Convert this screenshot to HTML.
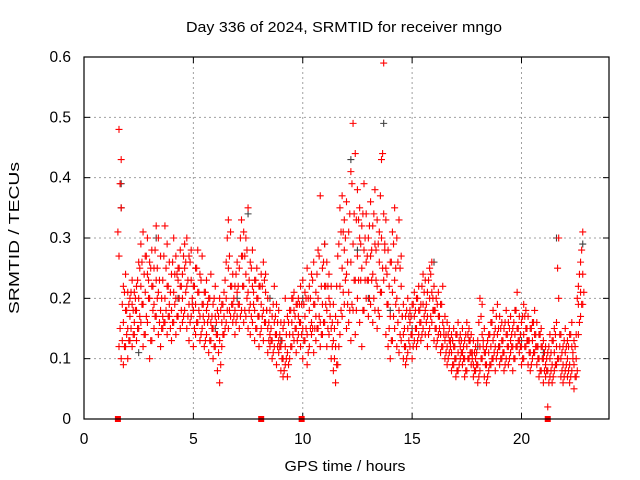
<!DOCTYPE html>
<html><head><meta charset="utf-8"><style>
body{margin:0;background:#fff;}
svg{display:block;font-family:"Liberation Sans",sans-serif;}
</style></head><body>
<svg id="chart" width="640" height="480">
<text x="344" y="32" font-size="15" text-anchor="middle" textLength="316" lengthAdjust="spacingAndGlyphs">Day 336 of 2024, SRMTID for receiver mngo</text>
<text x="19" y="238" font-size="15" text-anchor="middle" textLength="152" lengthAdjust="spacingAndGlyphs" transform="rotate(-90 19 238)">SRMTID / TECUs</text>
<text x="345" y="471" font-size="15" text-anchor="middle" textLength="121" lengthAdjust="spacingAndGlyphs">GPS time / hours</text>
<g id="grid"></g>
<g id="ticks"></g>
<g id="grey"></g>
<g id="red"></g>
<rect x="84" y="57" width="525" height="362" fill="none" stroke="#000" stroke-width="1.2"/>
</svg>
<script>
const times=[1.6,1.7,1.8,1.9,2.0,2.1,2.2,2.3,2.4,2.5,2.6,2.7,2.8,2.9,3.0,3.1,3.2,3.3,3.4,3.5,3.6,3.7,3.8,3.9,4.0,4.1,4.2,4.3,4.4,4.5,4.6,4.7,4.8,4.9,5.0,5.1,5.2,5.3,5.4,5.5,5.6,5.7,5.8,5.9,6.0,6.1,6.2,6.3,6.4,6.5,6.6,6.7,6.8,6.9,7.0,7.1,7.2,7.3,7.4,7.5,7.6,7.7,7.8,7.9,8.0,8.1,8.2,8.3,8.4,8.5,8.6,8.7,8.8,8.9,9.0,9.1,9.2,9.3,9.4,9.5,9.6,9.7,9.8,9.9,10.0,10.1,10.2,10.3,10.4,10.5,10.6,10.7,10.8,10.9,11.0,11.1,11.2,11.3,11.4,11.5,11.6,11.7,11.8,11.9,12.0,12.1,12.2,12.3,12.4,12.5,12.6,12.7,12.8,12.9,13.0,13.1,13.2,13.3,13.4,13.5,13.6,13.7,13.8,13.9,14.0,14.1,14.2,14.3,14.4,14.5,14.6,14.7,14.8,14.9,15.0,15.1,15.2,15.3,15.4,15.5,15.6,15.7,15.8,15.9,16.0,16.1,16.2,16.3,16.4,16.5,16.6,16.7,16.8,16.9,17.0,17.1,17.2,17.3,17.4,17.5,17.6,17.7,17.8,17.9,18.0,18.1,18.2,18.3,18.4,18.5,18.6,18.7,18.8,18.9,19.0,19.1,19.2,19.3,19.4,19.5,19.6,19.7,19.8,19.9,20.0,20.1,20.2,20.3,20.4,20.5,20.6,20.7,20.8,20.9,21.0,21.1,21.2,21.3,21.4,21.5,21.6,21.7,21.8,21.9,22.0,22.1,22.2,22.3,22.4,22.5,22.6,22.7,22.8];
const lowVals=[.12,.10,.09,.12,.10,.13,.12,.14,.13,.15,.16,.12,.14,.16,.10,.13,.15,.17,.14,.12,.15,.16,.14,.17,.13,.16,.14,.17,.15,.16,.18,.15,.13,.17,.12,.14,.16,.13,.15,.12,.14,.11,.13,.10,.12,.08,.06,.12,.14,.16,.15,.17,.16,.14,.17,.15,.18,.16,.17,.15,.14,.16,.13,.15,.12,.15,.13,.16,.11,.12,.10,.12,.09,.11,.08,.07,.09,.07,.10,.12,.13,.11,.14,.12,.10,.13,.09,.12,.14,.11,.13,.15,.12,.14,.16,.12,.14,.10,.08,.06,.09,.14,.17,.19,.15,.16,.13,.18,.14,.20,.16,.12,.18,.20,.17,.19,.16,.18,.15,.17,.21,.23,.14,.12,.10,.13,.15,.12,.11,.13,.10,.09,.11,.12,.10,.13,.12,.14,.13,.15,.14,.12,.15,.16,.13,.12,.14,.11,.12,.10,.09,.11,.08,.09,.07,.08,.10,.09,.07,.08,.10,.09,.07,.08,.06,.08,.10,.07,.06,.08,.09,.10,.08,.11,.09,.10,.08,.10,.09,.11,.08,.10,.12,.11,.09,.10,.12,.09,.08,.10,.11,.09,.07,.08,.06,.07,.02,.07,.06,.08,.09,.10,.07,.06,.08,.07,.06,.08,.05,.07,.14,.17,.19];
const lowMidVals=[.15,.13,.12,.14,.13,.15,.14,.18,.15,.17,.19,.14,.17,.20,.13,.18,.17,.20,.16,.15,.16,.18,.17,.15,.16,.19,.17,.20,.18,.17,.21,.17,.16,.19,.15,.16,.18,.14,.17,.13,.16,.13,.15,.12,.14,.11,.09,.14,.15,.18,.18,.19,.17,.16,.19,.17,.22,.18,.20,.18,.17,.19,.15,.17,.14,.17,.16,.18,.13,.13,.11,.14,.12,.12,.10,.08,.10,.09,.12,.14,.15,.13,.16,.14,.13,.15,.11,.15,.15,.15,.15,.17,.14,.16,.19,.15,.17,.12,.10,.09,.12,.18,.21,.23,.19,.18,.19,.23,.18,.23,.23,.18,.23,.23,.20,.23,.20,.23,.18,.21,.25,.28,.19,.15,.13,.17,.19,.16,.14,.17,.12,.10,.13,.14,.12,.15,.13,.16,.14,.17,.16,.14,.17,.18,.15,.13,.15,.12,.14,.11,.10,.12,.09,.10,.08,.09,.11,.10,.08,.10,.11,.10,.08,.09,.07,.10,.12,.09,.07,.09,.10,.11,.10,.12,.10,.11,.09,.12,.10,.12,.10,.12,.13,.12,.10,.12,.13,.11,.09,.11,.12,.10,.08,.10,.08,.08,.06,.08,.07,.09,.10,.14,.08,.07,.09,.08,.07,.10,.07,.08,.16,.19,.21];
const midVals=[.27,.35,.16,.18,.15,.17,.19,.16,.18,.20,.22,.19,.21,.24,.20,.22,.19,.23,.21,.18,.17,.20,.22,.19,.18,.21,.20,.23,.22,.20,.25,.22,.19,.23,.18,.19,.21,.17,.19,.16,.18,.17,.16,.15,.17,.14,.13,.16,.17,.20,.25,.22,.19,.18,.21,.19,.27,.22,.24,.21,.19,.22,.18,.20,.17,.19,.18,.21,.15,.14,.13,.16,.14,.13,.12,.10,.12,.11,.14,.16,.18,.15,.17,.16,.15,.17,.14,.18,.16,.19,.17,.20,.16,.19,.22,.18,.20,.15,.13,.12,.16,.22,.25,.28,.24,.21,.26,.29,.23,.27,.30,.25,.28,.26,.23,.27,.24,.29,.22,.26,.30,.34,.25,.19,.17,.21,.23,.20,.18,.22,.14,.12,.15,.16,.14,.17,.15,.18,.16,.19,.18,.17,.20,.21,.18,.15,.17,.14,.16,.13,.12,.13,.11,.12,.10,.11,.12,.11,.10,.12,.13,.11,.09,.10,.09,.12,.14,.11,.09,.11,.12,.13,.12,.14,.12,.13,.11,.14,.12,.13,.12,.14,.15,.13,.12,.14,.15,.13,.11,.13,.14,.12,.10,.12,.10,.09,.08,.10,.09,.11,.12,.20,.10,.09,.11,.10,.09,.12,.09,.10,.19,.21,.24];
const midHighVals=[.31,.39,.19,.21,.18,.19,.21,.18,.20,.23,.25,.26,.24,.27,.23,.25,.22,.28,.25,.23,.20,.27,.25,.22,.21,.26,.24,.24,.25,.22,.27,.26,.23,.26,.20,.22,.25,.21,.23,.19,.21,.19,.20,.17,.20,.16,.17,.18,.19,.23,.30,.27,.22,.20,.24,.22,.30,.27,.27,.28,.23,.25,.21,.23,.20,.22,.22,.23,.18,.16,.15,.19,.17,.16,.14,.13,.16,.14,.16,.18,.20,.17,.19,.19,.19,.19,.20,.20,.20,.23,.19,.24,.27,.22,.26,.22,.22,.19,.16,.15,.22,.29,.31,.31,.30,.26,.34,.39,.34,.33,.33,.29,.34,.30,.27,.32,.28,.34,.28,.29,.37,.44,.29,.24,.22,.26,.29,.25,.26,.25,.17,.15,.18,.17,.17,.19,.18,.20,.18,.22,.21,.19,.23,.24,.20,.18,.19,.17,.19,.15,.14,.14,.13,.13,.12,.14,.13,.13,.12,.14,.14,.13,.11,.11,.11,.16,.17,.13,.11,.13,.14,.16,.14,.17,.15,.15,.13,.16,.14,.15,.14,.16,.18,.15,.14,.17,.17,.15,.13,.15,.16,.14,.12,.14,.12,.11,.10,.12,.11,.13,.14,.25,.12,.11,.13,.12,.12,.14,.11,.12,.20,.24,.28];
const highVals=[.48,.43,.22,.24,.21,.20,.23,.21,.22,.26,.29,.31,.27,.30,.26,.28,.25,.32,.30,.27,.23,.32,.29,.26,.24,.30,.27,.25,.28,.24,.29,.30,.27,.28,.22,.25,.28,.24,.27,.21,.23,.20,.24,.19,.22,.18,.20,.19,.21,.26,.33,.31,.24,.22,.26,.25,.33,.31,.30,.35,.26,.28,.23,.25,.22,.24,.26,.24,.20,.18,.17,.22,.19,.18,.16,.15,.20,.17,.18,.20,.21,.19,.20,.22,.23,.21,.25,.22,.24,.26,.21,.28,.37,.25,.29,.26,.24,.22,.19,.17,.27,.35,.37,.33,.36,.31,.41,.49,.44,.38,.35,.32,.39,.34,.30,.36,.32,.38,.33,.31,.43,.59,.33,.28,.26,.31,.35,.30,.33,.27,.19,.17,.20,.18,.19,.21,.20,.22,.19,.24,.23,.21,.25,.26,.22,.20,.21,.19,.22,.17,.16,.15,.14,.15,.14,.16,.14,.15,.13,.16,.15,.14,.13,.12,.13,.20,.19,.15,.12,.14,.16,.18,.15,.19,.17,.16,.15,.18,.16,.17,.15,.18,.21,.17,.16,.19,.18,.17,.15,.16,.18,.16,.14,.15,.13,.12,.11,.14,.13,.15,.16,.30,.14,.12,.15,.13,.14,.16,.13,.14,.22,.26,.31];
const greyTimes=[1.7,1.7,2.5,3.3,4.3,5.0,6.0,7.0,7.5,8.5,9.0,10.0,11.0,12.2,12.5,13.0,13.7,14.0,15.0,16.0,17.0,18.0,19.0,20.0,21.0,21.6,22.8];
const greyVals=[.39,.35,.11,.30,.20,.18,.15,.20,.34,.20,.13,.20,.29,.43,.28,.20,.49,.18,.15,.26,.10,.12,.12,.13,.11,.30,.29];
const gapTimes=[1.55,8.1,9.95,21.2];
const xTicks=[0,5,10,15,20];
const yTicks=[0,0.1,0.2,0.3,0.4,0.5,0.6];
const yTickLabels=["0","0.1","0.2","0.3","0.4","0.5","0.6"];

const X0=84,X1=609,Y0=419,Y1=57,XMAX=24,YMAX=0.6;
const sx=v=>X0+(X1-X0)*v/XMAX;
const sy=v=>Y0-(Y0-Y1)*v/YMAX;
const NS="http://www.w3.org/2000/svg";
function mk(tag,attrs,parent){const e=document.createElementNS(NS,tag);for(const k in attrs)e.setAttribute(k,attrs[k]);document.getElementById(parent).appendChild(e);return e;}

xTicks.forEach(t=>{
  const x=sx(t);
  if(t>0){const g=mk('line',{x1:x,x2:x,y1:Y1,y2:Y0,stroke:'#a0a0a0','stroke-dasharray':'2,3'},'grid');
  
  }
  mk('line',{x1:x,x2:x,y1:Y0,y2:Y0-6,stroke:'#000'},'ticks');
  mk('line',{x1:x,x2:x,y1:Y1,y2:Y1+6,stroke:'#000'},'ticks');
  const l=mk('text',{x:x,y:444,'font-size':15.5,'text-anchor':'middle'},'ticks');
  l.textContent=t;
  
  
});
yTicks.forEach((t,i)=>{
  const y=sy(t);
  if(t>0&&t<YMAX){const g=mk('line',{x1:X0,x2:X1,y1:y,y2:y,stroke:'#a0a0a0','stroke-dasharray':'2,3'},'grid');
  
  }
  mk('line',{x1:X0,x2:X0+6,y1:y,y2:y,stroke:'#000'},'ticks');
  mk('line',{x1:X1,x2:X1-6,y1:y,y2:y,stroke:'#000'},'ticks');
  const l=mk('text',{x:71,y:y+5,'font-size':15.5,'text-anchor':'end'},'ticks');
  l.textContent=yTickLabels[i];
  
  
});
function cross(t,v,color,parent,dx){
  const x=sx(t)+dx,y=sy(v);
  const p=mk('path',{d:`M${x-3.5},${y}h7M${x},${y-3.5}v7`,stroke:color,'stroke-width':1.1,fill:'none'},parent);
  
  
}
greyTimes.forEach((t,i)=>cross(t,greyVals[i],'#404040','grey',0));
times.forEach((t,i)=>{
  cross(t,lowVals[i],'#ff0000','red',0);
  cross(t,lowMidVals[i],'#ff0000','red',1.1);
  cross(t,midVals[i],'#ff0000','red',0);
  cross(t,midHighVals[i],'#ff0000','red',-1.1);
  cross(t,highVals[i],'#ff0000','red',0);
});
gapTimes.forEach(t=>{
  const r=mk('rect',{x:sx(t)-3,y:Y0-3,width:6,height:6,fill:'#ff0000'},'red');
  
  
});
</script>
</body></html>
